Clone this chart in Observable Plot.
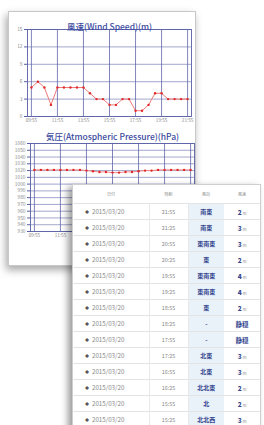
<!DOCTYPE html>
<html><head><meta charset="utf-8">
<script src="https://cdn.jsdelivr.net/npm/d3@7"></script>
<script src="https://cdn.jsdelivr.net/npm/@observablehq/plot@0.6"></script>
<style>
html,body{margin:0;padding:0;background:#fff;width:264px;height:425px;overflow:hidden;font-family:"Noto Sans CJK JP","Noto Sans",sans-serif;}
#card{position:absolute;left:8px;top:11px;width:186px;height:253px;background:#fff;border:1px solid #c8c8c8;box-shadow:-2px 4px 8px rgba(0,0,0,0.35);}
.chart{position:absolute;left:0;}
#tbl{position:absolute;left:72px;top:184px;width:187px;height:260px;background:#fff;border:1px solid #cfcfcf;box-shadow:-4px 3px 7px rgba(0,0,0,0.4);}
table{border-collapse:collapse;width:187px;table-layout:fixed;}
th{height:18px;font-size:4px;color:#888;font-weight:normal;text-align:center;padding:0;}
td{height:15px;border-top:1px solid #e4e4e4;padding:0;text-align:center;color:#888;}
td.d{font-size:6.2px;text-align:left;padding-left:12px;border-right:1px solid #e8e8e8;}
td.d span{font-size:4px;color:#555;margin-right:3px;}
td.t{font-size:5.5px;border-right:1px solid #e8e8e8;}
td.w{background:#e9f1f9;color:#34468f;font-weight:bold;font-size:6px;}
td.s{color:#34468f;font-weight:bold;font-size:6.5px;}
td.s small{font-size:4px;font-weight:normal;color:#888;margin-left:1px;}
</style></head>
<body>
<div id="card"></div>
<div id="top" class="chart" style="top:0px"></div>
<div id="bottom" class="chart" style="top:126px"></div>
<div id="tbl"></div>
<script>
const windTitle = "風速(Wind Speed)(m)";
const pressureTitle = "気圧(Atmospheric Pressure)(hPa)";
const day = "2015/03/20";
const times = ["09:55","10:25","10:55","11:25","11:55","12:25","12:55","13:25","13:55","14:25","14:55","15:25","15:55","16:25","16:55","17:25","17:55","18:25","18:55","19:25","19:55","20:25","20:55","21:25","21:55"];
const windSpeed = [5,6,5,2,5,5,5,5,5,4,3,3,2,2,3,3,1,1,2,4,4,3,3,3,3];
const pressure = [1021,1021,1021,1021,1021,1021,1021,1021,1020,1019,1018,1018,1017,1017,1018,1018,1019,1020,1020,1021,1021,1021,1021,1021,1021];
const xTickLabels = ["09:55","11:55","13:55","15:55","17:55","19:55","21:55"];
const xDomain = ["09:37","22:13"];
const windTicks = [0,3,6,9,12,15];
const pressureTicks = [930,940,950,960,970,980,990,1000,1010,1020,1030,1040,1050,1060];

const tableHeader = ["日付","時刻","風向","風速"];
const tableTimes = ["21:55","21:25","20:55","20:25","19:55","19:25","18:55","18:25","17:55","17:25","16:55","16:25","15:55","15:25"];
const tableDirs = ["南東","南東","東南東","東","東南東","東南東","東","-","-","北東","北東","北北東","北","北北西"];
const tableSpeeds = ["2","3","3","2","4","4","2","静穏","静穏","3","3","2","2","3"];

const parse = d3.timeParse("%Y/%m/%d %H:%M");
const fmt = d3.timeFormat("%H:%M");
const toDate = t => parse(day + " " + t);
const windData = times.map((t, i) => ({time: toDate(t), value: windSpeed[i]}));
const pressureData = times.map((t, i) => ({time: toDate(t), value: pressure[i]}));
const xTicks = xTickLabels.map(toDate);
const font = '"Noto Sans CJK JP","Noto Sans",sans-serif';
const grid = "#5a5fa6";

function chart({data, title, ticks, domain, top, bottom, left, right, height, titleDy, lineColor}) {
  return Plot.plot({
    width: 200, height,
    marginTop: top, marginBottom: bottom, marginLeft: left, marginRight: right,
    style: {fontFamily: font, fontSize: "5px", color: "#666", background: "transparent", overflow: "visible"},
    x: {type: "time", domain: xDomain.map(toDate), axis: null, label: null},
    y: {domain, axis: null, label: null},
    marks: [
      Plot.gridY(ticks, {stroke: grid, strokeOpacity: 0.7, strokeWidth: 0.8}),
      Plot.gridX(xTicks, {stroke: grid, strokeOpacity: 0.85, strokeWidth: 0.9}),
      Plot.frame({stroke: grid, strokeWidth: 0.9}),
      Plot.axisY(ticks, {tickSize: 3, tickPadding: 2, stroke: grid, fontSize: 4.8, fill: "#888", tickFormat: d => String(d), label: null}),
      Plot.axisX(xTicks, {tickSize: 0, tickPadding: 2.5, tickFormat: fmt, fontSize: 4.6, fill: "#888", label: null}),
      Plot.line(data, {x: "time", y: "value", stroke: lineColor, strokeWidth: 1}),
      Plot.dot(data, {x: "time", y: "value", r: 1.2, fill: "#e02a2a", stroke: null}),
      Plot.text([title], {frameAnchor: "top", dy: titleDy, fontSize: 8.5, fill: "#3a4aa0", fontWeight: 500})
    ]
  });
}

document.getElementById("top").append(chart({
  data: windData, title: windTitle, ticks: windTicks, domain: [0, 15],
  top: 29, bottom: 11, left: 27, right: 9, height: 127, titleDy: -6, lineColor: "#f07a7a"
}));
document.getElementById("bottom").append(chart({
  data: pressureData, title: pressureTitle, ticks: pressureTicks, domain: [930, 1060],
  top: 17, bottom: 11, left: 30, right: 6, height: 116, titleDy: -10, lineColor: "#f28a8a"
}));

let html = "<table><colgroup><col style='width:76px'><col style='width:39px'><col style='width:36px'><col style='width:36px'></colgroup><tr>";
html += tableHeader.map(h => "<th>" + h + "</th>").join("") + "</tr>";
tableTimes.forEach((t, i) => {
  const s = tableSpeeds[i];
  const sp = /^\d+$/.test(s) ? "<b>" + s + "</b><small>m</small>" : s;
  html += "<tr><td class='d'><span>◆</span>" + day + "</td><td class='t'>" + t + "</td><td class='w'>" + tableDirs[i] + "</td><td class='s'>" + sp + "</td></tr>";
});
html += "</table>";
document.getElementById("tbl").innerHTML = html;
</script>
</body></html>
